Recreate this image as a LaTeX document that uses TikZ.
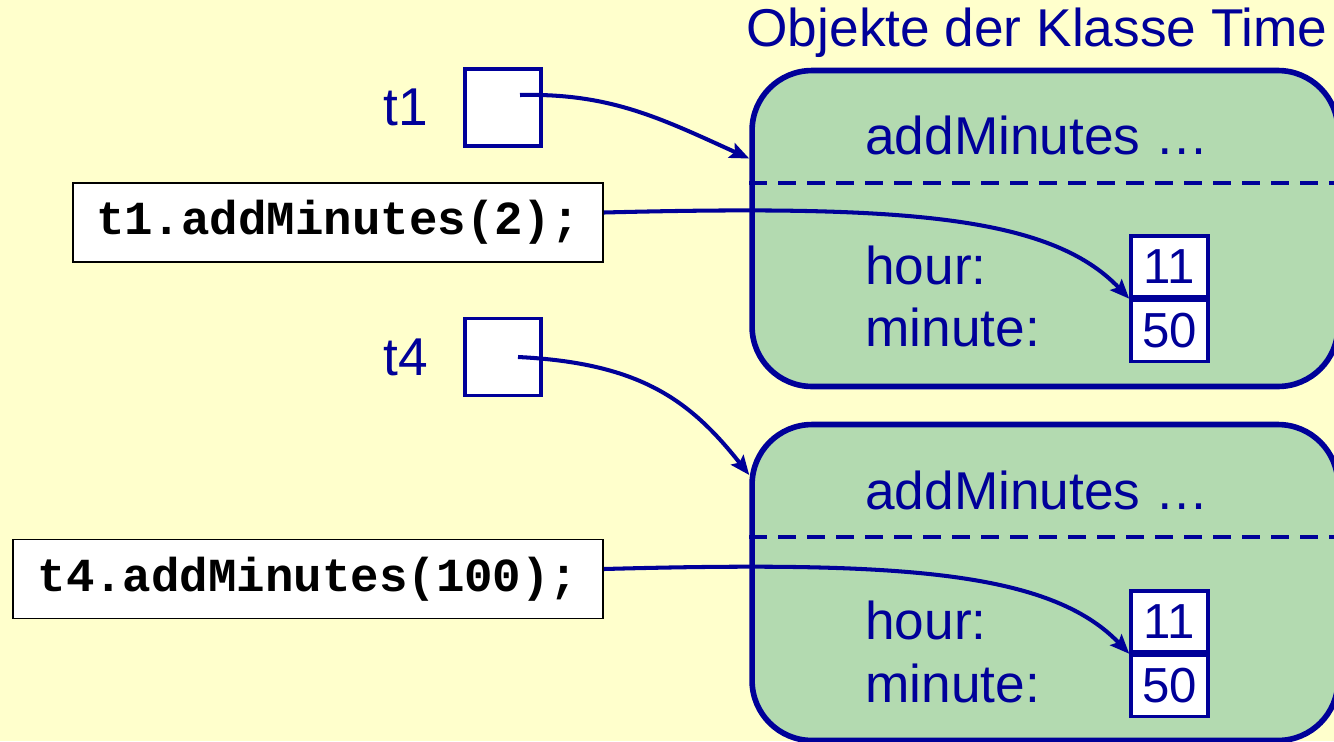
\documentclass[tikz,border=0pt]{standalone}
\usepackage{fontspec}
\setmainfont{Liberation Sans}
\newfontfamily\codefont{Liberation Mono}
\usetikzlibrary{arrows, arrows.meta, positioning}
\definecolor{paper}{RGB}{255,255,204}
\definecolor{navy}{RGB}{0,0,153}
\definecolor{objgreen}{RGB}{179,218,176}
\newcommand{\bigtext}{\fontsize{30.3}{34}\selectfont}
\newcommand{\codetext}{\codefont\bfseries\fontsize{27}{32}\selectfont}
\newcommand{\celltext}{\fontsize{28}{30}\selectfont}

\begin{document}
\begin{tikzpicture}[
        x=0.02cm, y=-0.02cm,
        label/.style={text=navy, font=\bigtext, inner sep=0pt},
        refbox/.style={rectangle, draw=navy, fill=white, line width=2.2pt, minimum width=1.52cm, minimum height=1.54cm},
        codebox/.style={rectangle, draw=black, fill=white, line width=1pt, minimum height=1.58cm, font=\codetext},
        objbox/.style={rectangle, draw=navy, fill=objgreen, line width=3.2pt, rounded corners=1.2cm, minimum width=11.72cm, minimum height=6.32cm},
        cell/.style={rectangle, draw=navy, fill=white, line width=2pt, minimum width=1.54cm, minimum height=1.22cm, text=navy, font=\celltext, inner sep=0pt},
        sep/.style={navy, line width=2.2pt, dash pattern=on 10pt off 6.5pt},
        ptr/.style={-{Stealth[length=11pt, width=9pt, inset=2pt]}, line width=2.3pt, navy}
    ]
        \fill[paper] (0,0) rectangle (1334,741);
        \useasboundingbox (0,0) rectangle (1334,741);

        % objects
        \node[label] (title) at (1037,33) {Objekte der Klasse Time};
        \node[objbox] (obj1) at (1045,228.5) {};
        \node[objbox] (obj2) at (1045,582.5) {};
        \draw[sep] (obj1.west |- 0,183) -- (obj1.east |- 0,183);
        \draw[sep] (obj2.west |- 0,537) -- (obj2.east |- 0,537);

        \node[label, anchor=west] (meth1) at (865,135) {addMinutes …};
        \node[label, anchor=west] (hour1) at (865,265) {hour:};
        \node[label, anchor=west] (min1) at (865,327) {minute:};
        \node[cell] (h1) at (1169.5,266.5) {11};
        \node[cell, anchor=north] (m1) at (h1.south) {50};

        \node[label, anchor=west] (meth2) at (865,490) {addMinutes …};
        \node[label, anchor=west] (hour2) at (865,620) {hour:};
        \node[label, anchor=west] (min2) at (865,683) {minute:};
        \node[cell] (h2) at (1169.5,621.5) {11};
        \node[cell, anchor=north] (m2) at (h2.south) {50};

        % references
        \node[refbox] (t1box) at (503,107.5) {};
        \node[label, left=0.7cm of t1box] (t1) {t1};
        \node[refbox] (t4box) at (503,357) {};
        \node[label, left=0.7cm of t4box] (t4) {t4};
        \coordinate (t1ref) at (520,95);
        \coordinate (t4ref) at (518,357);

        \node[codebox, minimum width=10.6cm] (call1) at (338,222.5) {t1.addMinutes(2);};
        \node[codebox, minimum width=11.8cm] (call2) at (308,579) {t4.addMinutes(100);};

        \draw[ptr] (t1ref) .. controls (610,93) and (660,118) .. ([yshift=1.4cm]obj1.west);
        \draw[ptr] (t4ref) .. controls (640,363) and (690,400) .. ([yshift=2.15cm]obj2.west);
        \draw[ptr] ([yshift=0.2cm]call1.east) .. controls (900,205) and (1050,215) .. (h1.south west);
        \draw[ptr] ([yshift=0.2cm]call2.east) .. controls (900,561) and (1050,571) .. (h2.south west);
    \end{tikzpicture}
\end{document}
